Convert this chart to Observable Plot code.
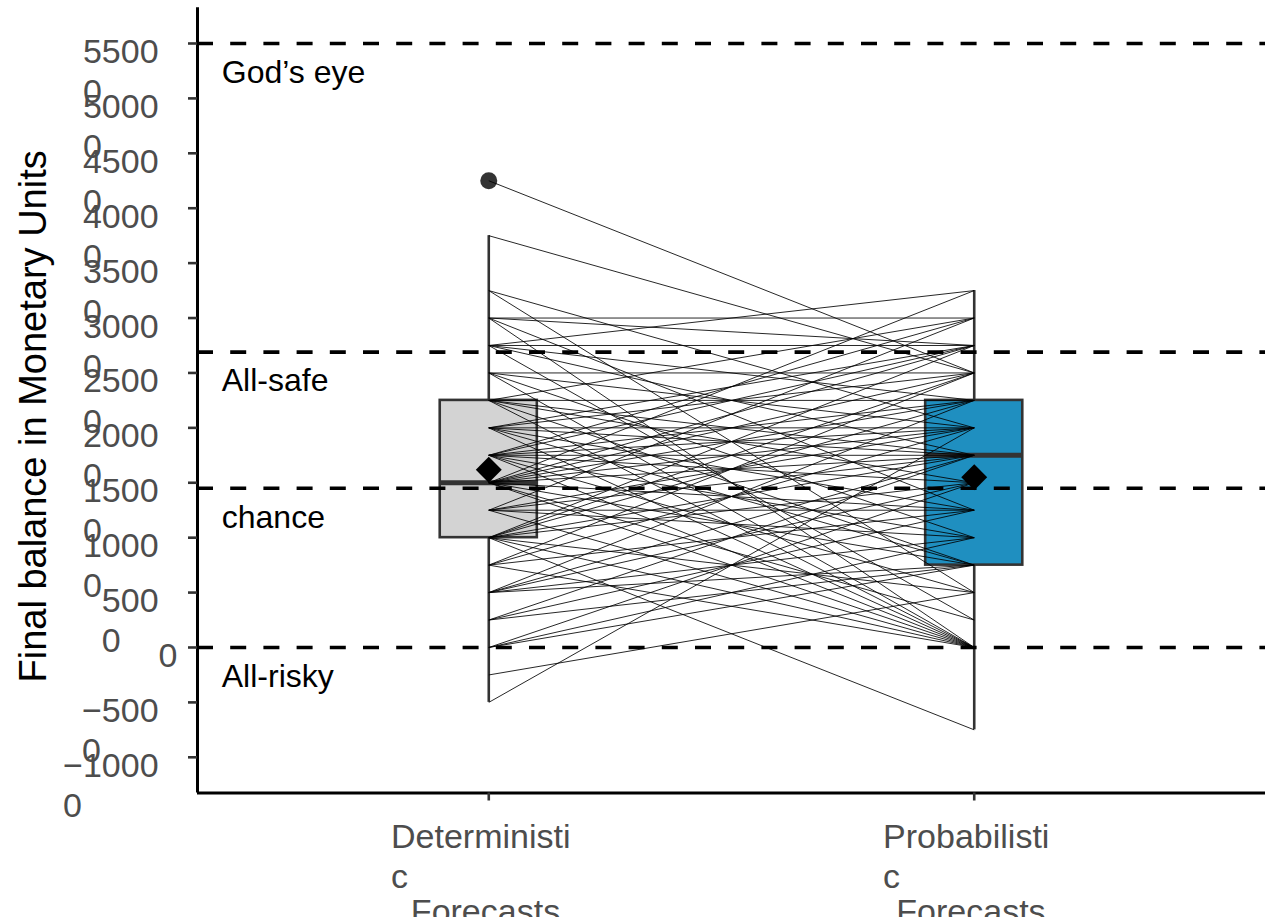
<!DOCTYPE html>
<html>
<head>
<meta charset="utf-8">
<script src="https://cdn.jsdelivr.net/npm/d3@7"></script>
<script src="https://cdn.jsdelivr.net/npm/@observablehq/plot@0.6"></script>
<style>
  body { margin: 0; background: #ffffff; }
  #chart svg { display: block; }
</style>
</head>
<body>
<div id="chart"></div>
<script>
// ---------- data ----------
const conditions = ["Deterministic Forecasts", "Probabilistic Forecasts"];
const conditionTickLines = [["Deterministi", "c", " Forecasts"], ["Probabilisti", "c", " Forecasts"]];
const conditionFill = ["#D3D3D3", "#1F8FC0"];

// final balance of each participant (paired by index)
const detBalance = [
  42500, 37500, 32500, 32500, 30000, 30000, 30000, 30000,
  27500, 27500, 27500, 27500, 27500, 25000, 25000, 25000, 25000,
  22500, 22500, 22500, 22500, 22500, 22500,
  20000, 20000, 20000, 20000, 20000, 20000, 20000,
  17500, 17500, 17500, 17500, 17500, 17500, 17500, 17500, 17500,
  15000, 15000, 15000, 15000, 15000, 15000, 15000, 15000, 15000, 15000,
  12500, 12500, 12500, 12500, 12500, 12500,
  10000, 10000, 10000, 10000, 10000, 10000, 10000, 10000,
  7500, 7500, 7500, 7500,
  5000, 5000, 5000, 5000, 5000,
  2500, 2500, 2500,
  0, 0, 0, -2500, -5000
];
const probBalance = [
  25000, 25000, 20000, 5000, 27500, 0, 12500, 30000,
  27500, 17500, 2500, 22500, 32500, 25000, 10000, 0, 20000,
  30000, 22500, 7500, 17500, 0, 15000,
  27500, 12500, 20000, 0, 25000, 7500, 17500,
  22500, 30000, 5000, 17500, 10000, 0, 20000, 27500, 15000,
  25000, 22500, 0, 12500, 17500, 32500, 7500, 20000, 2500, 27500,
  20000, 0, 10000, 12500, 17500, 30000,
  -7500, 15000, 25000, 5000, 22500, 0, 17500, 27500,
  12500, 20000, 0, 25000,
  7500, 22500, 15000, 17500, 10000,
  17500, 7500, 12500,
  15000, 7500, 10000, 5000, 20000
];

// reference strategies
const refValues = [55000, 26900, 14500, 0];
const refLabels = ["God\u2019s eye", "All-safe", "chance", "All-risky"];

// axis
const yTicks = [-10000, -5000, 0, 5000, 10000, 15000, 20000, 25000, 30000, 35000, 40000, 45000, 50000, 55000];
const yLimits = [-10000, 55000];
const yTitle = "Final balance in Monetary Units";

// ---------- derived ----------
const font = "'Liberation Sans', Arial, Helvetica, sans-serif";
const tickFont = 34;
const pairs = detBalance.map((d, i) => ({id: i, det: d, prob: probBalance[i]}));
const span = yLimits[1] - yLimits[0];
const yDomain = [yLimits[0] - 0.05 * span, yLimits[1] + 0.05 * span];

function boxStats(values, pos) {
  const v = values.slice().sort(d3.ascending);
  const q1 = d3.quantile(v, 0.25), med = d3.quantile(v, 0.5), q3 = d3.quantile(v, 0.75);
  const iqr = q3 - q1;
  const lo = d3.min(v.filter(d => d >= q1 - 1.5 * iqr));
  const hi = d3.max(v.filter(d => d <= q3 + 1.5 * iqr));
  const outliers = v.filter(d => d < lo || d > hi).map(d => ({pos, value: d}));
  return {pos, q1, med, q3, lo, hi, outliers, mean: d3.mean(v)};
}
const boxes = [boxStats(detBalance, 1), boxStats(probBalance, 2)];
const outliers = boxes.flatMap(b => b.outliers);

const ctx = document.createElement("canvas").getContext("2d");
ctx.font = tickFont + "px " + font;
const measure = s => ctx.measureText(s).width;
const yTickStrings = yTicks.map(v => (v < 0 ? "\u2212" : "") + Math.abs(v));
const yTickWrapped = yTickStrings.map(s => s.length > 1 ? s.slice(0, -1) + "\n" + s.slice(-1) : s);
const yTickWidths = yTickStrings.map(measure);
const xFirstWidths = conditionTickLines.map(l => measure(l[0]));
const spaceWidth = measure(" ");

const boxHalf = 0.1;

const marks = [
  // boxes and whiskers
  Plot.ruleX(boxes, {x: "pos", y1: "q3", y2: "hi", stroke: "#333333", strokeWidth: 2.6}),
  Plot.ruleX(boxes, {x: "pos", y1: "lo", y2: "q1", stroke: "#333333", strokeWidth: 2.6}),
  Plot.rect(boxes, {x1: d => d.pos - boxHalf, x2: d => d.pos + boxHalf, y1: "q1", y2: "q3",
    fill: (d, i) => conditionFill[i], stroke: "#333333", strokeWidth: 2.6}),
  Plot.ruleY(boxes, {y: "med", x1: d => d.pos - boxHalf, x2: d => d.pos + boxHalf, stroke: "#333333", strokeWidth: 5}),
  Plot.dot(outliers, {x: "pos", y: "value", r: 8.5, fill: "#333333", stroke: null}),
  // paired lines
  Plot.link(pairs, {x1: () => 1, x2: () => 2, y1: "det", y2: "prob", stroke: "#000000", strokeWidth: 0.85}),
  // reference lines
  Plot.ruleY(refValues, {stroke: "#000000", strokeWidth: 3.6, strokeDasharray: "16,17.2"}),
  Plot.text(refValues, {x: () => 0.45, y: d => d, text: (d, i) => refLabels[i], textAnchor: "start",
    dy: 29, fontSize: 32, fill: "#000000"}),
  // means
  Plot.dot(boxes, {x: "pos", y: "mean", symbol: "diamond2", r: 11.7, fill: "#000000", stroke: null}),
  // axes lines
  Plot.ruleX([yDomain], {x: () => 0.4, y1: d => d[0], y2: d => d[1], stroke: "#000000", strokeWidth: 3}),
  Plot.ruleY([yDomain[0]], {stroke: "#000000", strokeWidth: 3}),
  Plot.axisY(yTicks, {tickSize: 9, tickFormat: () => "", label: null, stroke: "#333333", strokeWidth: 2.6}),
  Plot.axisX([1, 2], {tickSize: 8, tickFormat: () => "", label: null, stroke: "#333333", strokeWidth: 2.6}),
  // y tick labels (wrapped)
  ...yTicks.map((v, i) => Plot.text([v], {y: d => d, frameAnchor: "left", text: () => yTickWrapped[i],
    textAnchor: "start", lineAnchor: "top", lineHeight: 1.18, dx: -20 - yTickWidths[i], dy: -9,
    fontSize: tickFont, fill: "#4D4D4D"})),
  // x tick labels
  ...[0, 1].map(i => Plot.text([i + 1], {x: d => d, frameAnchor: "bottom",
    text: () => conditionTickLines[i].slice(0, 2).join("\n"),
    textAnchor: "start", lineAnchor: "top", lineHeight: 1.18, dx: -8 - xFirstWidths[i] / 2, dy: 26,
    fontSize: tickFont, fill: "#4D4D4D"})),
  Plot.text([1, 2], {x: d => d, frameAnchor: "bottom", text: (d, i) => conditionTickLines[i][2].trim(),
    textAnchor: "middle", lineAnchor: "top", dx: -8 + spaceWidth / 2, dy: 26 + 2 * 1.18 * tickFont,
    fontSize: tickFont, fill: "#4D4D4D"}),
  // y title
  Plot.text([yTitle], {frameAnchor: "left", text: d => d, rotate: -90, textAnchor: "middle", dx: -164, dy: 16,
    fontSize: 38, fill: "#000000"})
];

const chart = Plot.plot({
  width: 1266,
  height: 917,
  marginLeft: 197,
  marginRight: 1,
  marginTop: 7.3,
  marginBottom: 124.5,
  x: {type: "linear", domain: [0.4, 2.6], axis: null},
  y: {domain: yDomain, axis: null},
  style: {fontFamily: font, background: "#ffffff", overflow: "visible"},
  marks
});
document.getElementById("chart").appendChild(chart);
</script>
</body>
</html>
